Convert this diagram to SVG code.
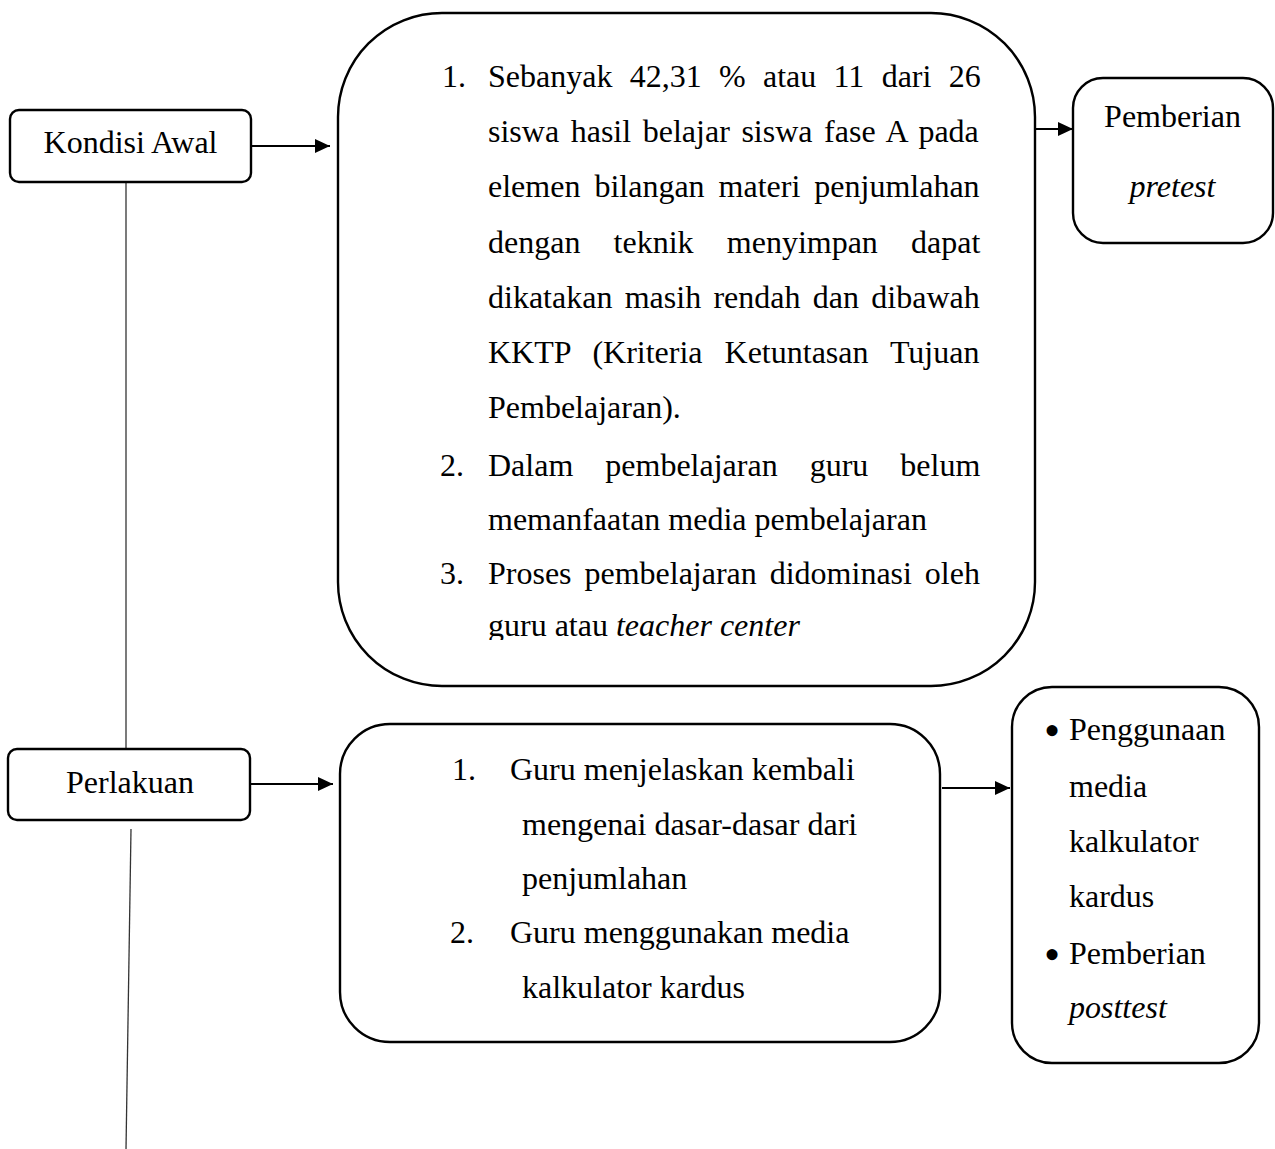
<svg xmlns="http://www.w3.org/2000/svg" width="1275" height="1149" viewBox="0 0 1275 1149">
<style>
.box{fill:#fff;stroke:#000;stroke-width:2.4}
.t{font-family:"Liberation Serif","Times New Roman",serif;font-size:32px;fill:#000}
.c{text-anchor:middle}
.i{font-style:italic}
.b{font-size:46px}
.conn{stroke:#000;stroke-width:2;fill:none}
.thin{stroke:#333;stroke-width:1.3;fill:none}
</style>
<defs>
<marker id="ah" markerUnits="userSpaceOnUse" markerWidth="16" markerHeight="14" refX="15" refY="7" orient="auto">
<path d="M0,0 L15,7 L0,14 z" fill="#000"/>
</marker>
<clipPath id="clipBig"><rect x="330" y="0" width="720" height="640"/></clipPath>
</defs>
<rect width="1275" height="1149" fill="#fff"/>

<g id="connectors">
<line class="thin" x1="126" y1="182" x2="126" y2="748"/>
<line class="thin" x1="131" y1="829" x2="126" y2="1149"/>
<line class="conn" x1="252" y1="146" x2="330" y2="146" marker-end="url(#ah)"/>
<line class="conn" x1="1035" y1="129" x2="1073" y2="129" marker-end="url(#ah)"/>
<line class="conn" x1="251" y1="784" x2="333" y2="784" marker-end="url(#ah)"/>
<line class="conn" x1="942" y1="788" x2="1010" y2="788" marker-end="url(#ah)"/>
</g>

<g id="kondisi-awal">
<rect class="box" x="10" y="110" width="241" height="72" rx="9"/>
<text class="t c" x="130.5" y="153">Kondisi Awal</text>
</g>

<g id="kondisi-detail">
<rect class="box" x="338" y="13" width="697" height="673" rx="104" ry="104"/>
<g clip-path="url(#clipBig)">
<text class="t" x="442" y="87">1.</text>
<text class="t" x="488" y="87" word-spacing="9.3">Sebanyak 42,31 % atau 11 dari 26</text>
<text class="t" x="488" y="142" word-spacing="3.6">siswa hasil belajar siswa fase A pada</text>
<text class="t" x="488" y="197" word-spacing="6">elemen bilangan materi penjumlahan</text>
<text class="t" x="488" y="253" word-spacing="25.2">dengan teknik menyimpan dapat</text>
<text class="t" x="488" y="308" word-spacing="4.3">dikatakan masih rendah dan dibawah</text>
<text class="t" x="488" y="363" word-spacing="14">KKTP (Kriteria Ketuntasan Tujuan</text>
<text class="t" x="488" y="418">Pembelajaran).</text>
<text class="t" x="440" y="476">2.</text>
<text class="t" x="488" y="476" word-spacing="24">Dalam pembelajaran guru belum</text>
<text class="t" x="488" y="530">memanfaatan media pembelajaran</text>
<text class="t" x="440" y="584">3.</text>
<text class="t" x="488" y="584" word-spacing="4.9">Proses pembelajaran didominasi oleh</text>
<text class="t" x="488" y="636">guru atau <tspan class="i">teacher center</tspan></text>
</g>
</g>

<g id="pretest">
<rect class="box" x="1073" y="78" width="200" height="165" rx="30"/>
<text class="t c" x="1172.5" y="127">Pemberian</text>
<text class="t c i" x="1172.5" y="197">pretest</text>
</g>

<g id="perlakuan">
<rect class="box" x="8" y="749" width="242" height="71" rx="9"/>
<text class="t c" x="130" y="793">Perlakuan</text>
</g>

<g id="perlakuan-detail">
<rect class="box" x="340" y="724" width="600" height="318" rx="50"/>
<text class="t" x="452" y="780">1.</text>
<text class="t" x="510" y="780">Guru menjelaskan kembali</text>
<text class="t" x="522" y="835">mengenai dasar-dasar dari</text>
<text class="t" x="522" y="889">penjumlahan</text>
<text class="t" x="450" y="943">2.</text>
<text class="t" x="510" y="943">Guru menggunakan media</text>
<text class="t" x="522" y="998">kalkulator kardus</text>
</g>

<g id="posttest">
<rect class="box" x="1012" y="687" width="247" height="376" rx="40"/>
<text class="t c b" x="1052" y="746">•</text>
<text class="t" x="1069" y="740">Penggunaan</text>
<text class="t" x="1069" y="797">media</text>
<text class="t" x="1069" y="852">kalkulator</text>
<text class="t" x="1069" y="907">kardus</text>
<text class="t c b" x="1052" y="970">•</text>
<text class="t" x="1069" y="964">Pemberian</text>
<text class="t i" x="1069" y="1018">posttest</text>
</g>
</svg>
